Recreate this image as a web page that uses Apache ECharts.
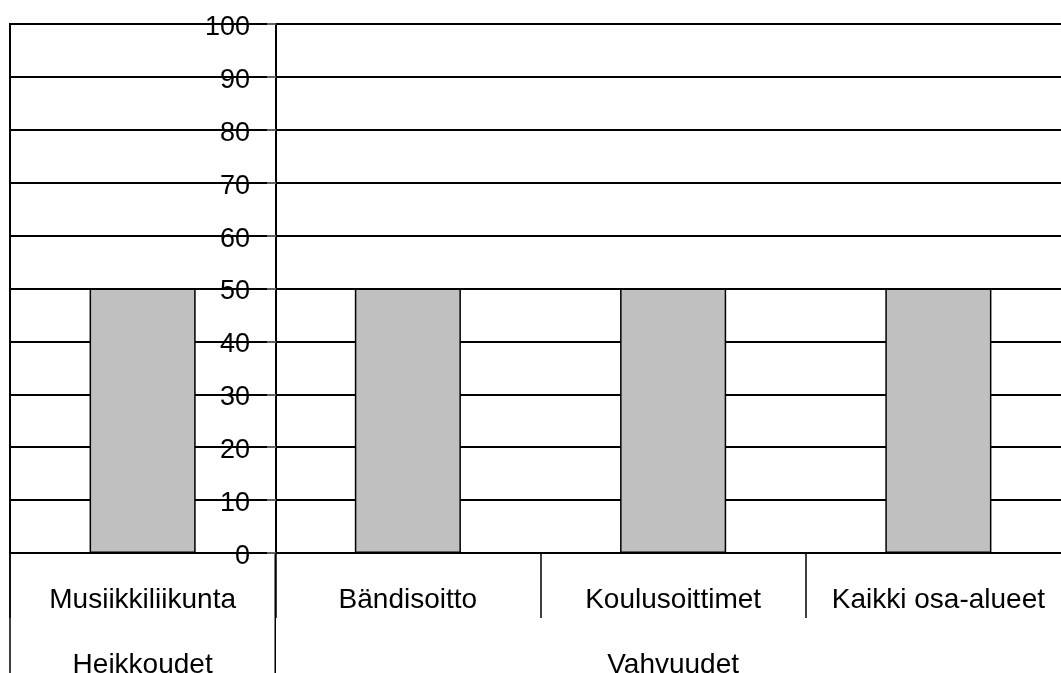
<!DOCTYPE html>
<html>
<head>
<meta charset="utf-8">
<script src="https://cdn.jsdelivr.net/npm/echarts@6/dist/echarts.min.js"></script>
<style>
  html, body { margin: 0; padding: 0; background: #fff; }
  #chart { width: 1061px; height: 673px; }
</style>
</head>
<body>
<div id="chart"></div>
<script>
// Osa-alueet ja niiden arvot
const categories = ['Musiikkiliikunta', 'Bändisoitto', 'Koulusoittimet', 'Kaikki osa-alueet'];
const values = [50, 50, 50, 50];
// Ryhmät: nimi sekä ensimmäisen ja viimeisen osa-alueen indeksi
const groupNames = ['Heikkoudet', 'Vahvuudet'];
const groupFirst = [0, 1];
const groupLast = [0, 3];

const FONT = "'Liberation Sans', Arial, sans-serif";
const chart = echarts.init(document.getElementById('chart'), null, { renderer: 'canvas' });

const option = {
  animation: false,
  backgroundColor: '#fff',
  grid: {
    left: 10, width: 1061, top: 24, bottom: 120,
    show: true, borderColor: '#000', borderWidth: 2,
    containLabel: false,
    outerBoundsMode: 'none'
  },
  xAxis: {
    type: 'category',
    data: categories,
    boundaryGap: true,
    axisLine: { show: true, lineStyle: { color: '#000', width: 2 } },
    axisTick: { show: true, interval: 0, length: 65, lineStyle: { color: '#000', width: 1.5 } },
    axisLabel: { interval: 0, margin: 33, fontSize: 28, color: '#000', fontFamily: FONT },
    splitLine: { show: false }
  },
  yAxis: {
    type: 'value',
    min: 0, max: 100, interval: 10,
    position: 'left',
    offset: -266,
    axisLine: { show: true, lineStyle: { color: '#000', width: 2 } },
    axisTick: { show: true, inside: false, length: 9, lineStyle: { color: '#808080', width: 1.5 } },
    axisLabel: {
      margin: 26, color: '#000',
      formatter: '{v|{value}}',
      rich: { v: { fontSize: 27, fontFamily: FONT, color: '#000', padding: [7, 0, 0, 0] } }
    },
    splitLine: { show: true, lineStyle: { color: '#000', width: 2 } }
  },
  series: [{
    type: 'bar',
    data: values,
    barWidth: '40%',
    itemStyle: { color: '#c0c0c0', borderColor: '#000', borderWidth: 1.5 }
  }]
};
chart.setOption(option);

// Ryhmien erottimet ja nimet kategoria-akselin alapuolelle
function drawGroups() {
  const c0 = chart.convertToPixel({ xAxisIndex: 0 }, 0);
  const c1 = chart.convertToPixel({ xAxisIndex: 0 }, 1);
  const band = c1 - c0;
  const yAxisPx = chart.convertToPixel({ yAxisIndex: 0 }, 0);
  const bottom = chart.getHeight();
  const elements = [];
  groupNames.forEach((name, i) => {
    const left = chart.convertToPixel({ xAxisIndex: 0 }, groupFirst[i]) - band / 2;
    const right = chart.convertToPixel({ xAxisIndex: 0 }, groupLast[i]) + band / 2;
    elements.push({
      type: 'line',
      shape: { x1: left, y1: yAxisPx, x2: left, y2: bottom },
      style: { stroke: '#000', lineWidth: 1.5 },
      silent: true
    });
    elements.push({
      type: 'text',
      x: (left + right) / 2,
      y: 665,
      style: {
        text: name, fontSize: 28, fontFamily: FONT, fill: '#000',
        textAlign: 'center', textVerticalAlign: 'middle'
      },
      silent: true
    });
  });
  chart.setOption({ graphic: { elements } });
}
drawGroups();
</script>
</body>
</html>
